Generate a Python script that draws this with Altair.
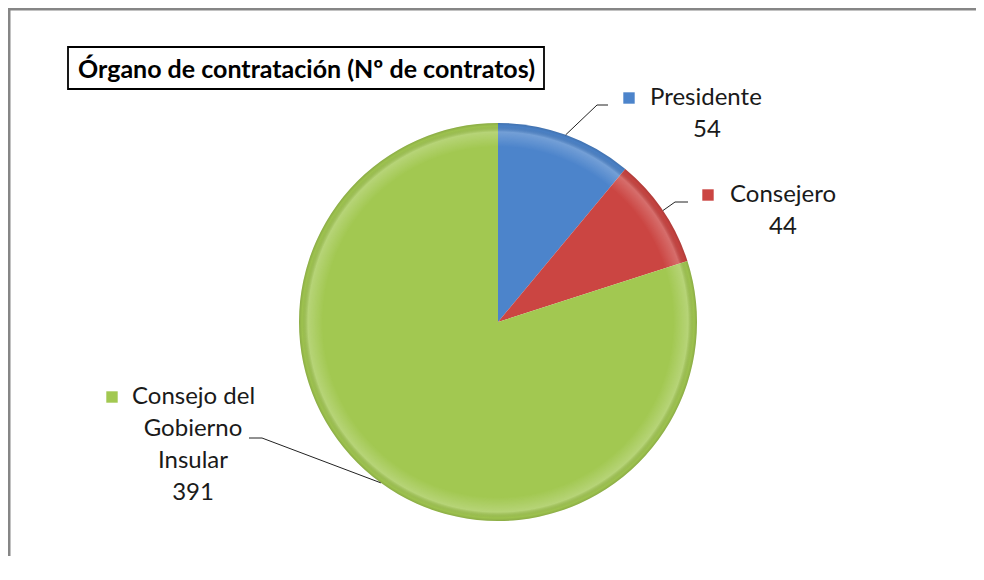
import math
import altair as alt
import pandas as pd

# ---- data ----
categories = ["Presidente", "Consejero", "Consejo del Gobierno Insular"]
values = [54, 44, 391]
label_lines = [["Presidente", "54"], ["Consejero", "44"],
               ["Consejo del", "Gobierno", "Insular", "391"]]
colors = ["#4C84CB", "#CB4542", "#A2C851"]
title_text = "Órgano de contratación (Nº de contratos)"

# ---- layout (page px minus the 8px page margin) ----
OFF = 8
W, H = 968, 548
CX, CY, R = 498 - OFF, 322 - OFF, 199
FONT = "Lato"
FS = 24

# label layout: (first-line x, first-line align, other lines centre x, first line y, line step)
label_layout = [
    (650, "left", 707, 98, 32),
    (730, "left", 783, 195, 32),
    (132, "left", 193, 397, 32),
]
key_pos = [(629, 98), (708, 195), (112, 397)]
leader_pts = [[(597, 105), (608, 105)], [(675, 202), (688, 202)], [(262, 438), (249, 438)]]

df = pd.DataFrame({"cat": categories, "value": values, "order": list(range(len(values)))})
color_scale = alt.Scale(domain=categories, range=colors)

pie = alt.Chart(df).mark_arc(outerRadius=R).encode(
    theta=alt.Theta("value:Q", stack=True),
    color=alt.Color("cat:N", scale=color_scale, legend=None),
    order=alt.Order("order:Q"),
    x=alt.value(CX), y=alt.value(CY),
)

shade = alt.Chart(pd.DataFrame({"a": [0]})).mark_arc(
    theta=0, theta2=2 * math.pi, outerRadius=R,
    fill=alt.RadialGradient(
        gradient="radial",
        stops=[
            alt.GradientStop(color="rgba(255,255,255,0)", offset=0),
            alt.GradientStop(color="rgba(255,255,255,0)", offset=0.88),
            alt.GradientStop(color="rgba(255,255,255,0.22)", offset=0.955),
            alt.GradientStop(color="rgba(0,0,0,0.03)", offset=0.985),
            alt.GradientStop(color="rgba(0,0,0,0.14)", offset=1),
        ],
        x1=0.5, y1=0.5, r1=0, x2=0.5, y2=0.5, r2=0.5,
    ),
).encode(x=alt.value(CX), y=alt.value(CY))

# leader lines: start on the pie rim at each slice's mid angle
total = sum(values)
rows = []
cum = 0
for i, v in enumerate(values):
    mid = (cum + v / 2) / total * 2 * math.pi
    cum += v
    sx = CX + R * math.sin(mid)
    sy = CY - R * math.cos(mid)
    pts = [(sx, sy)] + [(x - OFF, y - OFF) for x, y in leader_pts[i]]
    for j, (x, y) in enumerate(pts):
        rows.append({"cat": categories[i], "k": j, "px": x, "py": y})
leaders = alt.Chart(pd.DataFrame(rows)).mark_line(color="#222222", strokeWidth=1).encode(
    x=alt.X("px:Q", scale=None), y=alt.Y("py:Q", scale=None),
    detail="cat:N", order="k:Q",
)

# label texts
trows = []
for i, lines in enumerate(label_lines):
    fx, falign, cx, fy, step = label_layout[i]
    for j, t in enumerate(lines):
        if j == 0:
            trows.append({"t": t, "px": fx - OFF, "py": fy - OFF + j * step, "al": falign})
        else:
            trows.append({"t": t, "px": cx - OFF, "py": fy - OFF + j * step, "al": "center"})
tdf = pd.DataFrame(trows)
labels_left = alt.Chart(tdf[tdf.al == "left"]).mark_text(
    font=FONT, fontSize=FS, align="left", baseline="middle", color="#1a1a1a").encode(
    x=alt.X("px:Q", scale=None), y=alt.Y("py:Q", scale=None), text="t:N")
labels_center = alt.Chart(tdf[tdf.al == "center"]).mark_text(
    font=FONT, fontSize=FS, align="center", baseline="middle", color="#1a1a1a").encode(
    x=alt.X("px:Q", scale=None), y=alt.Y("py:Q", scale=None), text="t:N")

kdf = pd.DataFrame({"cat": categories,
                    "px": [p[0] - OFF for p in key_pos],
                    "py": [p[1] - OFF for p in key_pos]})
keys = alt.Chart(kdf).mark_square(size=130, opacity=1, filled=True).encode(
    x=alt.X("px:Q", scale=None), y=alt.Y("py:Q", scale=None),
    color=alt.Color("cat:N", scale=color_scale, legend=None),
)

# title box
tbox = alt.Chart(pd.DataFrame({"a": [0]})).mark_rect(
    fill="white", stroke="black", strokeWidth=1.8).encode(
    x=alt.value(68 - OFF), x2=alt.value(544 - OFF),
    y=alt.value(47 - OFF), y2=alt.value(89 - OFF))
ttext = alt.Chart(pd.DataFrame({"a": [0]})).mark_text(
    text=title_text, font=FONT, fontSize=25, fontWeight="bold",
    align="left", baseline="alphabetic", color="black").encode(
    x=alt.value(78 - OFF), y=alt.value(78 - OFF))

# outer frame: only the left and top edges are inside the picture
frame_left = alt.Chart(pd.DataFrame({"a": [0]})).mark_rule(
    color="#868686", strokeWidth=2.5).encode(
    x=alt.value(1.25), y=alt.value(0), y2=alt.value(H))
frame_top = alt.Chart(pd.DataFrame({"a": [0]})).mark_rule(
    color="#868686", strokeWidth=2.5).encode(
    y=alt.value(1.25), x=alt.value(0), x2=alt.value(W))

chart = alt.layer(
    frame_left, frame_top, pie, shade, leaders, keys, labels_left, labels_center, tbox, ttext
).properties(
    width=W, height=H, padding=0, autosize=alt.AutoSizeParams(type="none"),
    background="white",
).configure_view(strokeWidth=0, stroke="transparent")

chart.save("out.html", embed_options={"renderer": "svg", "actions": False})
